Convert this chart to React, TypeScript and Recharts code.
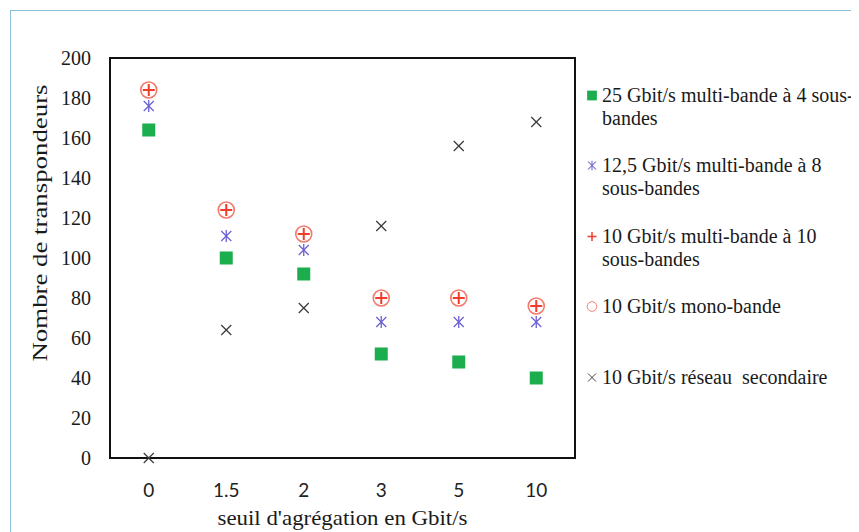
import React from "react";
import { ScatterChart, Scatter, XAxis, YAxis, ReferenceArea, Legend } from "recharts";

// seuil d'agrégation (Gbit/s), one category per column
const seuils = ["0", "1.5", "2", "3", "5", "10"];
const yTicks = [0, 20, 40, 60, 80, 100, 120, 140, 160, 180, 200];

// nombre de transpondeurs
const multi25 = [164, 100, 92, 52, 48, 40];
const multi125 = [176, 111, 104, 68, 68, 68];
const multi10 = [184, 124, 112, 80, 80, 76];
const mono10 = [184, 124, 112, 80, 80, 76];
const secondaire = [0, 64, 75, 116, 156, 168];

const names = [
  "25 Gbit/s multi-bande à 4 sous-\nbandes",
  "12,5 Gbit/s multi-bande à 8\nsous-bandes",
  "10 Gbit/s multi-bande à 10\nsous-bandes",
  "10 Gbit/s mono-bande",
  "10 Gbit/s réseau  secondaire",
];

function toPoints(values: number[]) {
  return values.map((v, i) => ({ idx: i, value: v }));
}

const Square = ({ cx, cy }: any) => (
  <rect x={cx - 6.5} y={cy - 6.5} width={13} height={13} fill="#1cae4e" />
);
const Asterisk = ({ cx, cy }: any) => (
  <g stroke="#6b5fd2" strokeWidth={1.3}>
    <line x1={cx} y1={cy - 6} x2={cx} y2={cy + 6} />
    <line x1={cx - 5} y1={cy - 5} x2={cx + 5} y2={cy + 5} />
    <line x1={cx - 5} y1={cy + 5} x2={cx + 5} y2={cy - 5} />
  </g>
);
const Plus = ({ cx, cy }: any) => (
  <g stroke="#f23b28" strokeWidth={2}>
    <line x1={cx - 6} y1={cy} x2={cx + 6} y2={cy} />
    <line x1={cx} y1={cy - 6} x2={cx} y2={cy + 6} />
  </g>
);
const Ring = ({ cx, cy }: any) => (
  <circle cx={cx} cy={cy} r={8} fill="none" stroke="#f27b6c" strokeWidth={1.6} />
);
const Cross = ({ cx, cy }: any) => (
  <g stroke="#3a3a3a" strokeWidth={1.2}>
    <line x1={cx - 5} y1={cy - 5} x2={cx + 5} y2={cy + 5} />
    <line x1={cx - 5} y1={cy + 5} x2={cx + 5} y2={cy - 5} />
  </g>
);

const shapes = [Square, Asterisk, Plus, Ring, Cross];
const legendScale = [0.75, 0.8, 0.75, 0.6, 0.8];

function SideLegend() {
  return (
    <div style={{ width: 268, fontFamily: "'Liberation Serif', serif", fontSize: 20, color: "#1a1a1a" }}>
      {names.map((n, i) => {
        const Shape = shapes[i];
        const s = legendScale[i];
        return (
          <div key={n} style={{ height: 70.5, display: "flex", alignItems: "flex-start" }}>
            <svg width={18} height={23} style={{ flex: "none", marginRight: 1 }}>
              <g transform={`translate(9 11.5) scale(${s})`}>
                <Shape cx={0} cy={0} />
              </g>
            </svg>
            <div style={{ whiteSpace: "pre", lineHeight: "23px" }}>{n}</div>
          </div>
        );
      })}
    </div>
  );
}

export default function App() {
  return (
    <div style={{ position: "relative", width: 851, height: 524, overflow: "hidden", background: "#fff" }}>
      <div
        style={{
          position: "absolute",
          left: 2,
          top: 2,
          width: 1000,
          height: 1000,
          border: "1.5px solid #8cbfd8",
        }}
      />
      <ScatterChart
        width={851}
        height={524}
        margin={{ top: 50, right: 16, bottom: 14, left: 22 }}
        style={{ position: "absolute", left: 0, top: 0 }}
      >
        <XAxis
          type="number"
          dataKey="idx"
          domain={[-0.5, 5.5]}
          ticks={[0, 1, 2, 3, 4, 5]}
          tickFormatter={(i: number) => seuils[i]}
          axisLine={false}
          tickSize={0}
          tickMargin={26}
          height={60}
          tick={{ fontFamily: "Lato, 'Noto Sans', sans-serif", fontSize: 19, fill: "#222" }}
          label={{
            content: ({ viewBox }: any) => (
              <text
                x={viewBox.x + viewBox.width / 2}
                y={viewBox.y + 67}
                textAnchor="middle"
                fontFamily="'Liberation Serif', serif"
                fontSize={22}
                fill="#1a1a1a"
                textLength={250}
                lengthAdjust="spacingAndGlyphs"
              >
                seuil d'agrégation en Gbit/s
              </text>
            ),
          }}
        />
        <YAxis
          type="number"
          dataKey="value"
          domain={[0, 200]}
          ticks={yTicks}
          axisLine={false}
          tickSize={0}
          tickMargin={19}
          width={80}
          tick={{ fontFamily: "'Liberation Serif', serif", fontSize: 20, fill: "#1a1a1a" }}
          label={{
            content: ({ viewBox }: any) => {
              const x = viewBox.x + 17;
              const y = viewBox.y + 165;
              return (
                <text
                  x={x}
                  y={y}
                  transform={`rotate(-90 ${x} ${y})`}
                  textAnchor="middle"
                  fontFamily="'Liberation Serif', serif"
                  fontSize={22}
                  fill="#1a1a1a"
                  textLength={277}
                  lengthAdjust="spacingAndGlyphs"
                >
                  Nombre de transpondeurs
                </text>
              );
            },
          }}
        />
        <ReferenceArea x1={-0.5} x2={5.5} y1={0} y2={200} fill="none" stroke="#111" strokeWidth={2} />
        <Legend
          layout="vertical"
          align="right"
          verticalAlign="top"
          content={() => <SideLegend />}
          wrapperStyle={{ left: 575, top: 75.5, right: "auto", width: 268 }}
        />
        <Scatter name={names[0]} data={toPoints(multi25)} shape={Square} isAnimationActive={false} />
        <Scatter name={names[1]} data={toPoints(multi125)} shape={Asterisk} isAnimationActive={false} />
        <Scatter name={names[3]} data={toPoints(mono10)} shape={Ring} isAnimationActive={false} />
        <Scatter name={names[2]} data={toPoints(multi10)} shape={Plus} isAnimationActive={false} />
        <Scatter name={names[4]} data={toPoints(secondaire)} shape={Cross} isAnimationActive={false} />
      </ScatterChart>
    </div>
  );
}
